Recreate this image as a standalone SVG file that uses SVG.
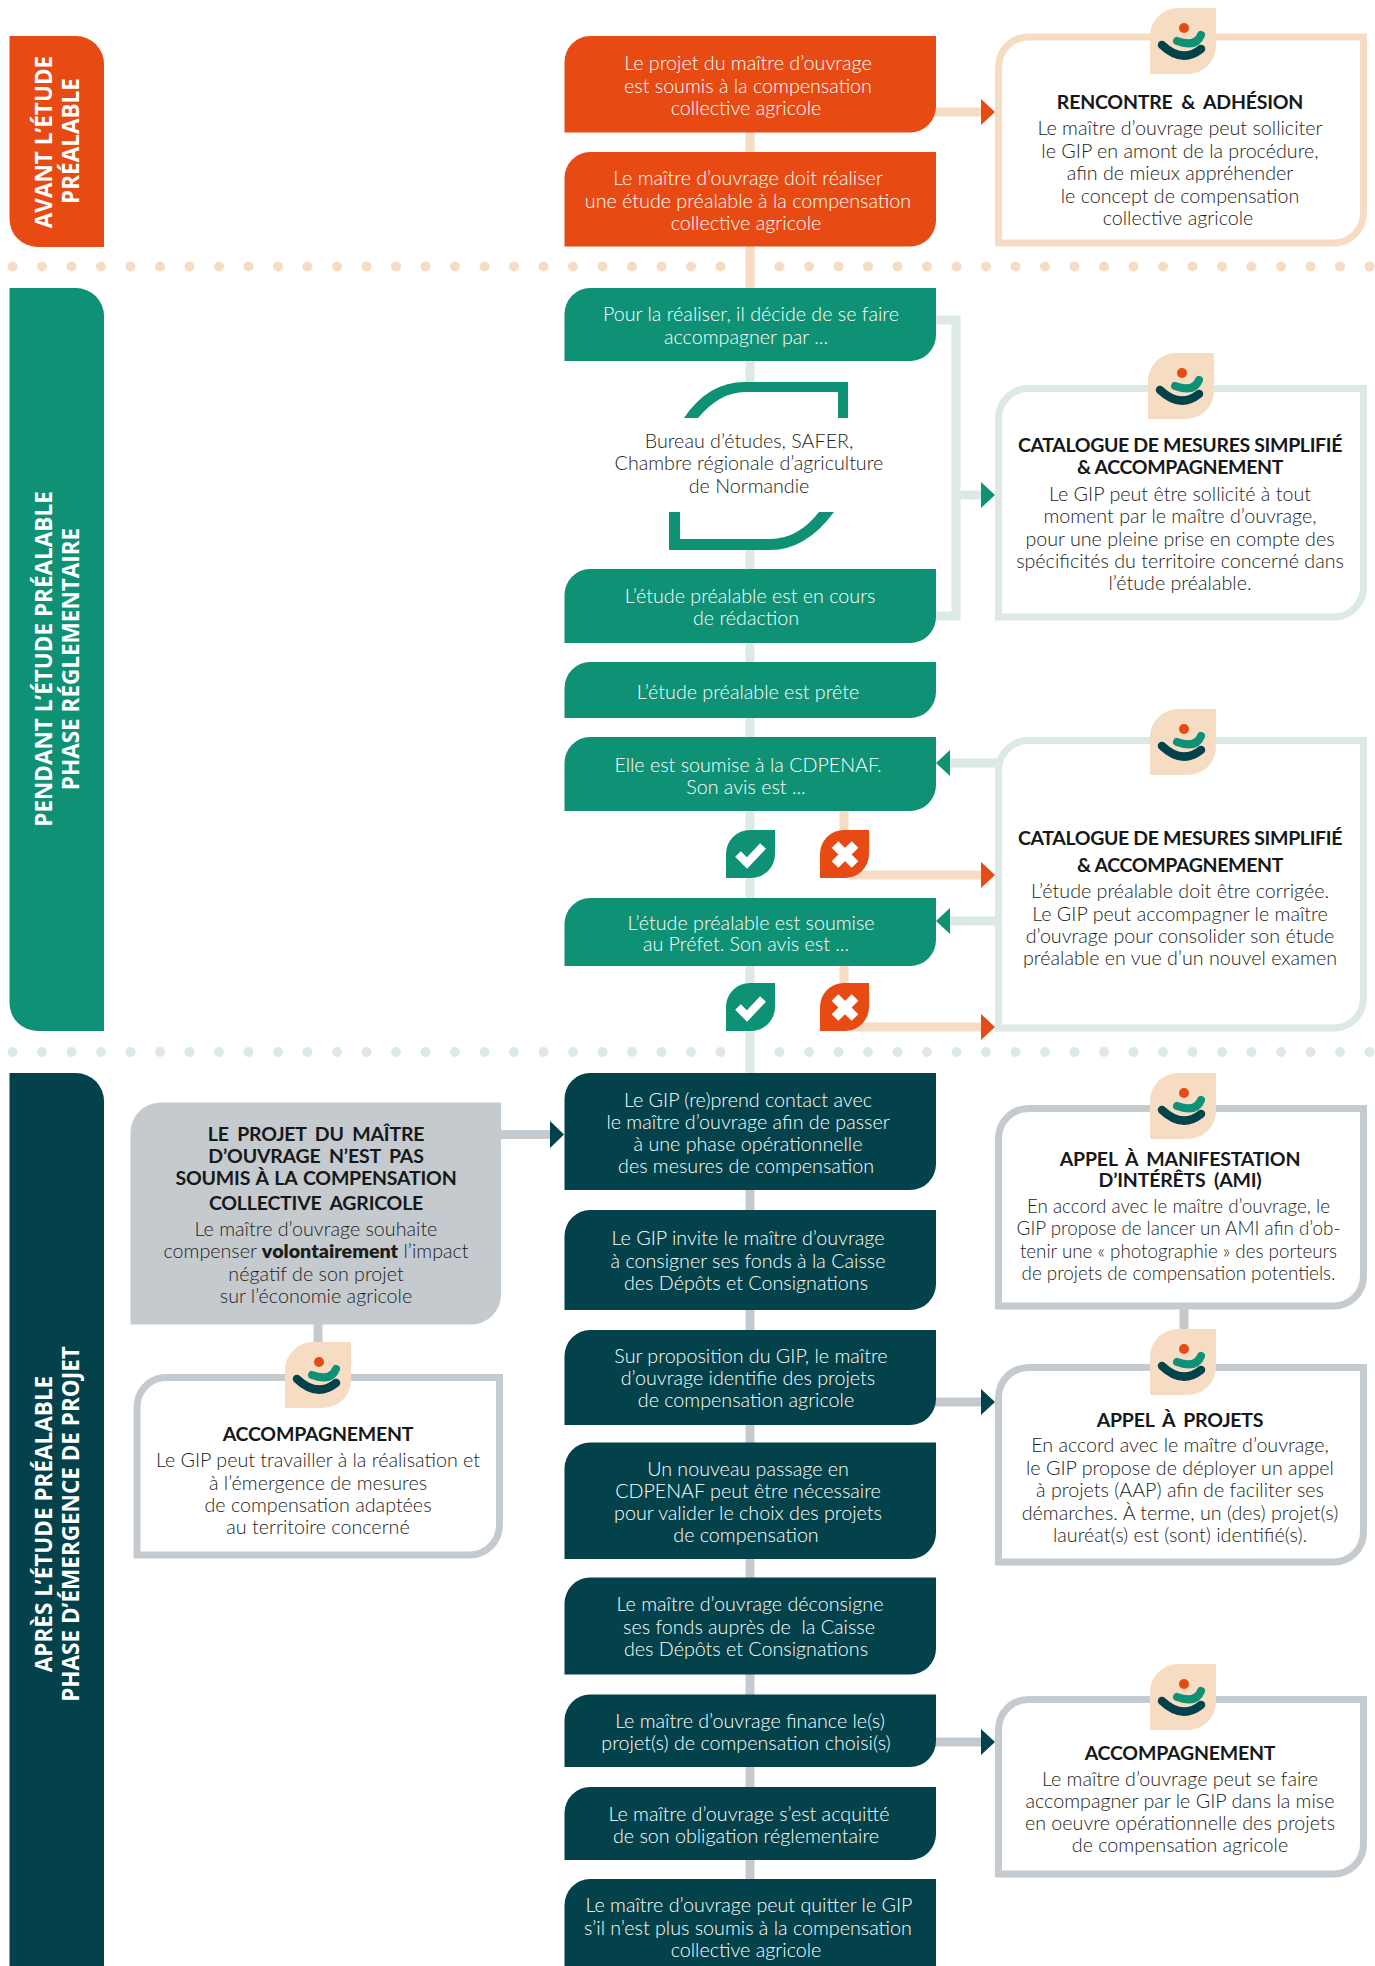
<svg xmlns="http://www.w3.org/2000/svg" xmlns:xlink="http://www.w3.org/1999/xlink" width="1375" height="1966" viewBox="0 0 1375 1966">
<style>
text{font-family:"Lato","Noto Sans",sans-serif;text-anchor:middle;font-size:19.7px;font-weight:300}
.w,.k,.t{transform:translateY(1px)}
.w{fill:#fff}
.k{fill:#1d1d1b}
.t{fill:#16191a;font-weight:700;font-size:19.5px;letter-spacing:-.2px;word-spacing:4px}
.c{letter-spacing:-.35px;word-spacing:0}
.s{word-spacing:1.5px}
.a{font-size:18.8px}
.p{font-family:"Open Sans","Liberation Sans",sans-serif;font-weight:700;font-size:22.5px;fill:#fff}
.b{fill:none;stroke-width:7}
.l{fill:none;stroke-width:9}
.pe{stroke:#f6dcc3}.te{stroke:#dde9e5}.gr{stroke:#c5cace}
.or{fill:#e84a14}.gn{fill:#0f9175}.dk{fill:#03424a}
</style>
<defs>
<g id="icon">
<path d="M28 0H66V38A28 28 0 0 1 38 66H0V28A28 28 0 0 1 28 0Z" fill="#f6dcc3"/>
<circle cx="34" cy="20" r="5" fill="#e84a14"/>
<path d="M27 33Q46 40 51 27" fill="none" stroke="#0f9175" stroke-width="8" stroke-linecap="round"/>
<path d="M12 37Q32 56 51 41" fill="none" stroke="#03424a" stroke-width="8.5" stroke-linecap="round"/>
</g>
<g id="ok"><path d="M24 0H49V24A24 24 0 0 1 25 48H0V24A24 24 0 0 1 24 0Z" fill="#0f9175"/><path d="M12 24L21 33L37 16" fill="none" stroke="#fff" stroke-width="8"/></g>
<g id="no"><path d="M24 0H49V24A24 24 0 0 1 25 48H0V24A24 24 0 0 1 24 0Z" fill="#e84a14"/><path d="M15 14.500L35 34.500M35 14.500L15 34.500" fill="none" stroke="#fff" stroke-width="9.500"/></g>
</defs>

<g id="separators">
<g id="dots-1" fill="#f6dcc3"><circle cx="12.5" cy="266.500" r="5"/><circle cx="42" cy="266.500" r="5"/><circle cx="71.500" cy="266.500" r="5"/><circle cx="101" cy="266.500" r="5"/><circle cx="130.500" cy="266.500" r="5"/><circle cx="160" cy="266.500" r="5"/><circle cx="189.500" cy="266.500" r="5"/><circle cx="219" cy="266.500" r="5"/><circle cx="248.500" cy="266.500" r="5"/><circle cx="278" cy="266.500" r="5"/><circle cx="307.500" cy="266.500" r="5"/><circle cx="337" cy="266.500" r="5"/><circle cx="366.500" cy="266.500" r="5"/><circle cx="396" cy="266.500" r="5"/><circle cx="425.500" cy="266.500" r="5"/><circle cx="455" cy="266.500" r="5"/><circle cx="484.500" cy="266.500" r="5"/><circle cx="514" cy="266.500" r="5"/><circle cx="543.500" cy="266.500" r="5"/><circle cx="573" cy="266.500" r="5"/><circle cx="602.500" cy="266.500" r="5"/><circle cx="632" cy="266.500" r="5"/><circle cx="661.500" cy="266.500" r="5"/><circle cx="691" cy="266.500" r="5"/><circle cx="720.500" cy="266.500" r="5"/><circle cx="779.500" cy="266.500" r="5"/><circle cx="809" cy="266.500" r="5"/><circle cx="838.500" cy="266.500" r="5"/><circle cx="868" cy="266.500" r="5"/><circle cx="897.500" cy="266.500" r="5"/><circle cx="927" cy="266.500" r="5"/><circle cx="956.500" cy="266.500" r="5"/><circle cx="986" cy="266.500" r="5"/><circle cx="1015.500" cy="266.500" r="5"/><circle cx="1045" cy="266.500" r="5"/><circle cx="1074.500" cy="266.500" r="5"/><circle cx="1104" cy="266.500" r="5"/><circle cx="1133.500" cy="266.500" r="5"/><circle cx="1163" cy="266.500" r="5"/><circle cx="1192.500" cy="266.500" r="5"/><circle cx="1222" cy="266.500" r="5"/><circle cx="1251.500" cy="266.500" r="5"/><circle cx="1281" cy="266.500" r="5"/><circle cx="1310.500" cy="266.500" r="5"/><circle cx="1340" cy="266.500" r="5"/><circle cx="1369.500" cy="266.500" r="5"/></g>
<g id="dots-2" fill="#dde9e5"><circle cx="12.5" cy="1052" r="5"/><circle cx="42" cy="1052" r="5"/><circle cx="71.500" cy="1052" r="5"/><circle cx="101" cy="1052" r="5"/><circle cx="130.500" cy="1052" r="5"/><circle cx="160" cy="1052" r="5"/><circle cx="189.500" cy="1052" r="5"/><circle cx="219" cy="1052" r="5"/><circle cx="248.500" cy="1052" r="5"/><circle cx="278" cy="1052" r="5"/><circle cx="307.500" cy="1052" r="5"/><circle cx="337" cy="1052" r="5"/><circle cx="366.500" cy="1052" r="5"/><circle cx="396" cy="1052" r="5"/><circle cx="425.500" cy="1052" r="5"/><circle cx="455" cy="1052" r="5"/><circle cx="484.500" cy="1052" r="5"/><circle cx="514" cy="1052" r="5"/><circle cx="543.500" cy="1052" r="5"/><circle cx="573" cy="1052" r="5"/><circle cx="602.500" cy="1052" r="5"/><circle cx="632" cy="1052" r="5"/><circle cx="661.500" cy="1052" r="5"/><circle cx="691" cy="1052" r="5"/><circle cx="720.500" cy="1052" r="5"/><circle cx="779.500" cy="1052" r="5"/><circle cx="809" cy="1052" r="5"/><circle cx="838.500" cy="1052" r="5"/><circle cx="868" cy="1052" r="5"/><circle cx="897.500" cy="1052" r="5"/><circle cx="927" cy="1052" r="5"/><circle cx="956.500" cy="1052" r="5"/><circle cx="986" cy="1052" r="5"/><circle cx="1015.500" cy="1052" r="5"/><circle cx="1045" cy="1052" r="5"/><circle cx="1074.500" cy="1052" r="5"/><circle cx="1104" cy="1052" r="5"/><circle cx="1133.500" cy="1052" r="5"/><circle cx="1163" cy="1052" r="5"/><circle cx="1192.500" cy="1052" r="5"/><circle cx="1222" cy="1052" r="5"/><circle cx="1251.500" cy="1052" r="5"/><circle cx="1281" cy="1052" r="5"/><circle cx="1310.500" cy="1052" r="5"/><circle cx="1340" cy="1052" r="5"/><circle cx="1369.500" cy="1052" r="5"/></g>
</g>

<g id="connectors">
<path class="l pe" d="M750 130V290"/>
<path class="l te" d="M750 360V384M750 548V1075"/>
<path class="l gr" d="M750 1188V1966"/>
<path class="l pe" d="M934 112H982"/><path class="or" d="M981 99L995 112L981 125Z"/>
<path class="l te" d="M934 320H956V616H934M956 495H982"/><path class="gn" d="M981 482L995 495L981 508Z"/>
<path class="l te" d="M997 763H948"/><path class="gn" d="M950 750L936 763L950 776Z"/>
<path class="l te" d="M997 921H948"/><path class="gn" d="M950 908L936 921L950 934Z"/>
<path class="l pe" d="M844 809V835M850 875H982"/><path class="or" d="M981 862L995 875L981 888Z"/>
<path class="l pe" d="M844 964V988M850 1027H982"/><path class="or" d="M981 1014L995 1027L981 1040Z"/>
<path class="l gr" d="M499 1134.500H552"/><path class="dk" d="M550 1121L564 1134.500L550 1148Z"/>
<path class="l gr" d="M318 1322V1345"/>
<path class="l gr" d="M934 1402H982"/><path class="dk" d="M981 1389L995 1402L981 1415Z"/>
<path class="l gr" d="M934 1742H982"/><path class="dk" d="M981 1729L995 1742L981 1755Z"/>
<path class="l gr" d="M1184 1307V1335"/>
</g>

<g id="panel-avant"><path class="or" d="M9.500 36H76A28 28 0 0 1 104 64V247H37.500A28 28 0 0 1 9.500 219Z"/>
<text class="p" transform="translate(52 142) rotate(-90)">AVANT L’ÉTUDE</text><text class="p" transform="translate(79 141) rotate(-90)">PRÉALABLE</text></g>
<g id="panel-pendant"><path class="gn" d="M9.500 288H76A28 28 0 0 1 104 316V1031H37.500A28 28 0 0 1 9.500 1003Z"/>
<text class="p" transform="translate(52 659) rotate(-90)">PENDANT L’ÉTUDE PRÉALABLE</text><text class="p" transform="translate(79 659) rotate(-90)">PHASE RÉGLEMENTAIRE</text></g>
<g id="panel-apres"><path class="dk" d="M9.500 1073H76A28 28 0 0 1 104 1101V1966H9.500Z"/>
<text class="p" transform="translate(52 1524) rotate(-90)">APRÈS L’ÉTUDE PRÉALABLE</text><text class="p" transform="translate(79 1524) rotate(-90)">PHASE D’ÉMERGENCE DE PROJET</text></g>

<g id="n1"><path class="or" d="M590 36H936V106A26 26 0 0 1 910 132.500H564.500V62A26 26 0 0 1 590 36Z"/>
<text class="w" x="748" y="69">Le projet du maître d’ouvrage</text><text class="w" x="748" y="92">est soumis à la compensation</text><text class="w" x="746" y="114">collective agricole</text></g>
<g id="n2"><path class="or" d="M590 152H936V220A26 26 0 0 1 910 246.500H564.500V178A26 26 0 0 1 590 152Z"/>
<text class="w" x="748" y="184">Le maître d’ouvrage doit réaliser</text><text class="w" x="748" y="207">une étude préalable à la compensation</text><text class="w" x="746" y="229">collective agricole</text></g>
<g id="n3"><path class="gn" d="M590 288H936V335A26 26 0 0 1 910 361H564.500V314A26 26 0 0 1 590 288Z"/>
<text class="w" x="751" y="320">Pour la réaliser, il décide de se faire</text><text class="w" x="746" y="343">accompagner par ...</text></g>
<g id="n-bureau"><path class="gn" d="M684 418Q708 382 745 382H848V418H838V392H745Q720 392 698 418Z"/><path class="gn" d="M669 512H680V539H770Q798 539 819 512H834Q806 550 770 550H669Z"/>
<text class="k" x="749" y="447">Bureau d’études, SAFER,</text><text class="k" x="749" y="469">Chambre régionale d’agriculture</text><text class="k" x="749" y="492">de Normandie</text></g>
<g id="n4"><path class="gn" d="M590 569H936V617A26 26 0 0 1 910 643H564.500V595A26 26 0 0 1 590 569Z"/>
<text class="w" x="750" y="602">L’étude préalable est en cours</text><text class="w" x="746" y="624">de rédaction</text></g>
<g id="n5"><path class="gn" d="M590 662H936V692A26 26 0 0 1 910 718H564.500V688A26 26 0 0 1 590 662Z"/>
<text class="w" x="748" y="698">L’étude préalable est prête</text></g>
<g id="n6"><path class="gn" d="M590 737H936V785A26 26 0 0 1 910 811H564.500V763A26 26 0 0 1 590 737Z"/>
<text class="w" x="748" y="771">Elle est soumise à la CDPENAF.</text><text class="w" x="746" y="793">Son avis est ...</text></g>
<g id="n7"><path class="gn" d="M590 898H936V940A26 26 0 0 1 910 966H564.500V924A26 26 0 0 1 590 898Z"/>
<text class="w" x="751" y="929">L’étude préalable est soumise</text><text class="w" x="746" y="950">au Préfet. Son avis est ...</text></g>
<g id="ok1"><use xlink:href="#ok" href="#ok" x="726" y="830"/></g>
<g id="no1"><use xlink:href="#no" href="#no" x="820" y="830"/></g>
<g id="ok2"><use xlink:href="#ok" href="#ok" x="726" y="983"/></g>
<g id="no2"><use xlink:href="#no" href="#no" x="820" y="983"/></g>
<g id="n8"><path class="dk" d="M590 1073H936V1164A26 26 0 0 1 910 1190H564.500V1099A26 26 0 0 1 590 1073Z"/>
<text class="w" x="748" y="1106">Le GIP (re)prend contact avec</text><text class="w" x="748" y="1128">le maître d’ouvrage afin de passer</text><text class="w" x="748" y="1150">à une phase opérationnelle</text><text class="w" x="746" y="1172">des mesures de compensation</text></g>
<g id="n9"><path class="dk" d="M590 1210H936V1284A26 26 0 0 1 910 1310H564.500V1236A26 26 0 0 1 590 1210Z"/>
<text class="w" x="748" y="1244">Le GIP invite le maître d’ouvrage</text><text class="w" x="748" y="1267">à consigner ses fonds à la Caisse</text><text class="w" x="746" y="1289">des Dépôts et Consignations</text></g>
<g id="n10"><path class="dk" d="M590 1330H936V1399A26 26 0 0 1 910 1425H564.500V1356A26 26 0 0 1 590 1330Z"/>
<text class="w" x="751" y="1362">Sur proposition du GIP, le maître</text><text class="w" x="748" y="1384">d’ouvrage identifie des projets</text><text class="w" x="746" y="1406">de compensation agricole</text></g>
<g id="n11"><path class="dk" d="M590 1442.500H936V1533A26 26 0 0 1 910 1559H564.500V1468.500A26 26 0 0 1 590 1442.500Z"/>
<text class="w" x="748" y="1475">Un nouveau passage en</text><text class="w" x="748" y="1497">CDPENAF peut être nécessaire</text><text class="w" x="748" y="1519">pour valider le choix des projets</text><text class="w" x="746" y="1541">de compensation</text></g>
<g id="n12"><path class="dk" d="M590 1577.500H936V1648.500A26 26 0 0 1 910 1674.500H564.500V1603.500A26 26 0 0 1 590 1577.500Z"/>
<text class="w" x="750" y="1610">Le maître d’ouvrage déconsigne</text><text class="w" x="749" y="1633" xml:space="preserve">ses fonds auprès de  la Caisse</text><text class="w" x="746" y="1655">des Dépôts et Consignations</text></g>
<g id="n13"><path class="dk" d="M590 1694.500H936V1741A26 26 0 0 1 910 1767H564.500V1720.500A26 26 0 0 1 590 1694.500Z"/>
<text class="w" x="750" y="1727">Le maître d’ouvrage finance le(s)</text><text class="w" x="746" y="1749">projet(s) de compensation choisi(s)</text></g>
<g id="n14"><path class="dk" d="M590 1787H936V1834A26 26 0 0 1 910 1860H564.500V1813A26 26 0 0 1 590 1787Z"/>
<text class="w" x="749" y="1820">Le maître d’ouvrage s’est acquitté</text><text class="w" x="746" y="1842">de son obligation réglementaire</text></g>
<g id="n15"><path class="dk" d="M590 1879H936V1966H564.500V1905A26 26 0 0 1 590 1879Z"/>
<text class="w" x="749" y="1911">Le maître d’ouvrage peut quitter le GIP</text><text class="w" x="748" y="1934">s’il n’est plus soumis à la compensation</text><text class="w" x="746" y="1956">collective agricole</text></g>

<g id="grey-box"><path d="M160 1102.500H501V1294.500A30 30 0 0 1 471 1324.500H130.500V1132.500A30 30 0 0 1 160 1102.500Z" fill="#c5cace"/>
<text class="t" x="316" y="1140">LE PROJET DU MAÎTRE</text><text class="t" x="316" y="1162">D’OUVRAGE N’EST PAS</text><text class="t s" x="316" y="1184">SOUMIS À LA COMPENSATION</text><text class="t" x="316" y="1209">COLLECTIVE AGRICOLE</text>
<text class="k" x="316" y="1235">Le maître d’ouvrage souhaite</text><text class="k" x="316" y="1257">compenser <tspan font-weight="800">volontairement</tspan> l’impact</text><text class="k" x="316" y="1280">négatif de son projet</text><text class="k" x="316" y="1302">sur l’économie agricole</text></g>

<g id="box-accompagnement-left"><path class="b gr" d="M163 1377.500H499.500V1525A30 30 0 0 1 469.500 1555H137V1407A30 30 0 0 1 163 1377.500Z"/>
<use xlink:href="#icon" href="#icon" x="285" y="1342"/>
<text class="t" x="318" y="1440">ACCOMPAGNEMENT</text>
<text class="k" x="318" y="1466">Le GIP peut travailler à la réalisation et</text><text class="k" x="318" y="1489">à l’émergence de mesures</text><text class="k" x="318" y="1511">de compensation adaptées</text><text class="k" x="318" y="1533">au territoire concerné</text></g>

<g id="box-rencontre"><path class="b pe" d="M1028 37H1363.500V213A30 30 0 0 1 1333.500 243H998.500V67A30 30 0 0 1 1028 37Z"/>
<use xlink:href="#icon" href="#icon" x="1150" y="8"/>
<text class="t" x="1180" y="108">RENCONTRE &amp; ADHÉSION</text>
<text class="k" x="1180" y="134">Le maître d’ouvrage peut solliciter</text><text class="k" x="1180" y="157">le GIP en amont de la procédure,</text><text class="k" x="1180" y="179">afin de mieux appréhender</text><text class="k" x="1180" y="202">le concept de compensation</text><text class="k" x="1178" y="224">collective agricole</text></g>

<g id="box-catalogue-1"><path class="b te" d="M1028 388.500H1363.500V587A30 30 0 0 1 1333.500 617H998.500V418A30 30 0 0 1 1028 388.500Z"/>
<use xlink:href="#icon" href="#icon" x="1148" y="353"/>
<text class="t c" x="1180" y="451">CATALOGUE DE MESURES SIMPLIFIÉ</text><text class="t c" x="1180" y="473">&amp; ACCOMPAGNEMENT</text>
<text class="k" x="1180" y="500">Le GIP peut être sollicité à tout</text><text class="k" x="1180" y="522">moment par le maître d’ouvrage,</text><text class="k" x="1180" y="545">pour une pleine prise en compte des</text><text class="k" x="1180" y="567">spécificités du territoire concerné dans</text><text class="k" x="1180" y="589">l’étude préalable.</text></g>

<g id="box-catalogue-2"><path class="b te" d="M1028 740.500H1363.500V998A30 30 0 0 1 1333.500 1028H998.500V770A30 30 0 0 1 1028 740.500Z"/>
<use xlink:href="#icon" href="#icon" x="1150" y="709"/>
<text class="t c" x="1180" y="844">CATALOGUE DE MESURES SIMPLIFIÉ</text><text class="t c" x="1180" y="871">&amp; ACCOMPAGNEMENT</text>
<text class="k" x="1180" y="897">L’étude préalable doit être corrigée.</text><text class="k" x="1180" y="920">Le GIP peut accompagner le maître</text><text class="k" x="1180" y="942">d’ouvrage pour consolider son étude</text><text class="k" x="1180" y="964">préalable en vue d’un nouvel examen</text></g>

<g id="box-ami"><path class="b gr" d="M1028 1108.500H1363.500V1276A30 30 0 0 1 1333.500 1306H998.500V1138A30 30 0 0 1 1028 1108.500Z"/>
<use xlink:href="#icon" href="#icon" x="1150" y="1073"/>
<text class="t" x="1180" y="1165">APPEL À MANIFESTATION</text><text class="t" x="1180" y="1186">D’INTÉRÊTS (AMI)</text>
<text class="k a" x="1178.500" y="1212">En accord avec le maître d’ouvrage, le</text><text class="k a" x="1178.500" y="1234">GIP propose de lancer un AMI afin d’ob-</text><text class="k a" x="1178.500" y="1257">tenir une « photographie » des porteurs</text><text class="k a" x="1178.500" y="1279">de projets de compensation potentiels.</text></g>

<g id="box-aap"><path class="b gr" d="M1028 1367.500H1363.500V1532A30 30 0 0 1 1333.500 1562H998.500V1397A30 30 0 0 1 1028 1367.500Z"/>
<use xlink:href="#icon" href="#icon" x="1150" y="1329"/>
<text class="t" x="1180" y="1426">APPEL À PROJETS</text>
<text class="k" x="1180" y="1451">En accord avec le maître d’ouvrage,</text><text class="k" x="1180" y="1474">le GIP propose de déployer un appel</text><text class="k" x="1180" y="1496">à projets (AAP) afin de faciliter ses</text><text class="k" x="1180" y="1519">démarches. À terme, un (des) projet(s)</text><text class="k" x="1180" y="1541">lauréat(s) est (sont) identifié(s).</text></g>

<g id="box-accompagnement-right"><path class="b gr" d="M1028 1699.500H1363.500V1844A30 30 0 0 1 1333.500 1874H998.500V1729A30 30 0 0 1 1028 1699.500Z"/>
<use xlink:href="#icon" href="#icon" x="1150" y="1664"/>
<text class="t" x="1180" y="1759">ACCOMPAGNEMENT</text>
<text class="k" x="1180" y="1785">Le maître d’ouvrage peut se faire</text><text class="k" x="1180" y="1807">accompagner par le GIP dans la mise</text><text class="k" x="1180" y="1829">en oeuvre opérationnelle des projets</text><text class="k" x="1180" y="1851">de compensation agricole</text></g>
</svg>
